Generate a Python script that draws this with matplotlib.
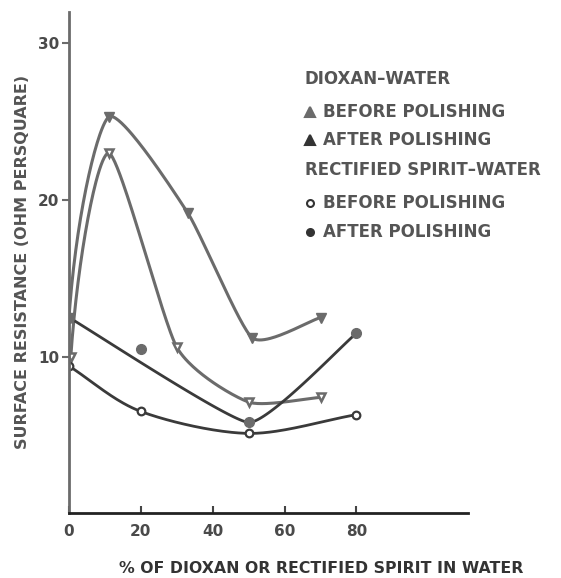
import numpy as np
import matplotlib
matplotlib.use("Agg")
import matplotlib.pyplot as plt
from matplotlib.lines import Line2D

# ---- data ----
dioxan_before_x = [0.5, 11, 30, 50, 70]
dioxan_before_y = [10.0, 23.0, 10.6, 7.1, 7.4]
dioxan_after_x = [0, 11, 33, 51, 70]
dioxan_after_y = [12.5, 25.3, 19.2, 11.2, 12.5]
spirit_before_x = [0, 20, 50, 80]
spirit_before_y = [9.4, 6.5, 5.1, 6.3]
spirit_after_x = [0, 20, 50, 80]
spirit_after_y = [12.5, 10.5, 5.8, 11.5]
# the drawn curve for spirit (after) skips the 20% point
spirit_after_curve_idx = [0, 2, 3]

x_ticks = [0, 20, 40, 60, 80]
y_ticks = [10, 20, 30]

legend_lines = ["DIOXAN\u2013WATER", "BEFORE POLISHING", "AFTER POLISHING",
                "RECTIFIED SPIRIT\u2013WATER", "BEFORE POLISHING", "AFTER POLISHING"]


def smooth(xs, ys, tension=0.0, start_tangent=None, n=50):
    """Cardinal (Hermite) spline through the given points (rendering only)."""
    p = np.column_stack([xs, ys]).astype(float)
    m = len(p)
    tang = np.zeros_like(p)
    for i in range(m):
        a = p[max(i - 1, 0)]
        b = p[min(i + 1, m - 1)]
        tang[i] = (1 - tension) * (b - a) / (2 if 0 < i < m - 1 else 1)
    if start_tangent is not None:
        tang[0] = np.asarray(start_tangent, float)
    out = []
    t = np.linspace(0, 1, n)[:, None]
    h00 = 2 * t**3 - 3 * t**2 + 1
    h10 = t**3 - 2 * t**2 + t
    h01 = -2 * t**3 + 3 * t**2
    h11 = t**3 - t**2
    for i in range(m - 1):
        seg = h00 * p[i] + h10 * tang[i] + h01 * p[i + 1] + h11 * tang[i + 1]
        out.append(seg if i == 0 else seg[1:])
    a = np.vstack(out)
    return a[:, 0], a[:, 1]


LINE = "#6b6b6b"
DARK = "#3a3a3a"
TXT = "#555555"

fig = plt.figure(figsize=(5.61, 5.78), dpi=100)
ax = fig.add_axes([0.123, 0.112, 0.711, 0.867])
ax.set_xlim(0, 111)
ax.set_ylim(0, 32)

lw = 2.2
cx, cy = smooth(dioxan_after_x, dioxan_after_y, tension=0.45, start_tangent=(6, 20))
ax.plot(cx, cy, color=LINE, lw=lw, solid_capstyle="round")
cx, cy = smooth(dioxan_before_x, dioxan_before_y, tension=0.4, start_tangent=(6, 20))
ax.plot(cx, cy, color=LINE, lw=lw, solid_capstyle="round")
cx, cy = smooth(spirit_before_x, spirit_before_y, tension=0.1)
ax.plot(cx, cy, color=DARK, lw=lw - 0.2, solid_capstyle="round")
sx = [spirit_after_x[i] for i in spirit_after_curve_idx]
sy = [spirit_after_y[i] for i in spirit_after_curve_idx]
cx, cy = smooth(sx, sy, tension=0.6)
ax.plot(cx, cy, color=DARK, lw=lw - 0.2, solid_capstyle="round")

ax.plot(dioxan_after_x, dioxan_after_y, "v", ms=7, color=LINE, ls="none")
ax.plot(dioxan_before_x, dioxan_before_y, "v", ms=6, mfc="white", mec=LINE, mew=1.8, ls="none")
ax.plot(spirit_before_x, spirit_before_y, "o", ms=5.5, mfc="white", mec=DARK, mew=1.6, ls="none")
ax.plot(spirit_after_x, spirit_after_y, "o", ms=7, color=LINE, ls="none")

for s in ["top", "right"]:
    ax.spines[s].set_visible(False)
ax.spines["left"].set_color(LINE)
ax.spines["left"].set_linewidth(2)
ax.spines["bottom"].set_color("#222222")
ax.spines["bottom"].set_linewidth(2)

ax.set_xticks(x_ticks)
ax.set_xticklabels([str(v) for v in x_ticks])
ax.set_yticks(y_ticks)
ax.set_yticklabels([str(v) for v in y_ticks])
ax.tick_params(axis="x", direction="in", length=5, width=1.5, color="#444444",
               labelsize=11, labelcolor="#4a4a4a", pad=8)
ax.tick_params(axis="y", direction="out", length=5, width=1.5, color=LINE,
               labelsize=11, labelcolor="#4a4a4a", pad=2)
for lab in ax.get_xticklabels() + ax.get_yticklabels():
    lab.set_fontweight("bold")

fig.text(0.04, 0.547, "SURFACE RESISTANCE (OHM PERSQUARE)", rotation=90,
         ha="center", va="center", fontsize=11.5, fontweight="bold", color=TXT)
fig.text(0.572, 0.017, "% OF DIOXAN OR RECTIFIED SPIRIT IN WATER",
         ha="center", va="center", fontsize=11.3, fontweight="bold", color="#333333")

# legend as text block
ys_px = [79, 112, 140, 170, 203, 232]
xs_px = [305, 323, 323, 305, 323, 323]
for i, (t, yp, xp) in enumerate(zip(legend_lines, ys_px, xs_px)):
    fig.text(xp / 561, 1 - yp / 578, t, ha="left", va="center",
             fontsize=12, fontweight="bold", color=TXT)
sym = [(1, "^", LINE, LINE), (2, "^", "#333333", "#333333"),
       (4, "o", "white", "#333333"), (5, "o", "#333333", "#333333")]
for i, m, fc, ec in sym:
    fig.lines.append(Line2D([310 / 561], [1 - ys_px[i] / 578], marker=m,
                            ms=7 if m == "^" else 5, mfc=fc, mec=ec, mew=1.5,
                            transform=fig.transFigure, ls="none"))

fig.savefig("out.png", dpi=100)
